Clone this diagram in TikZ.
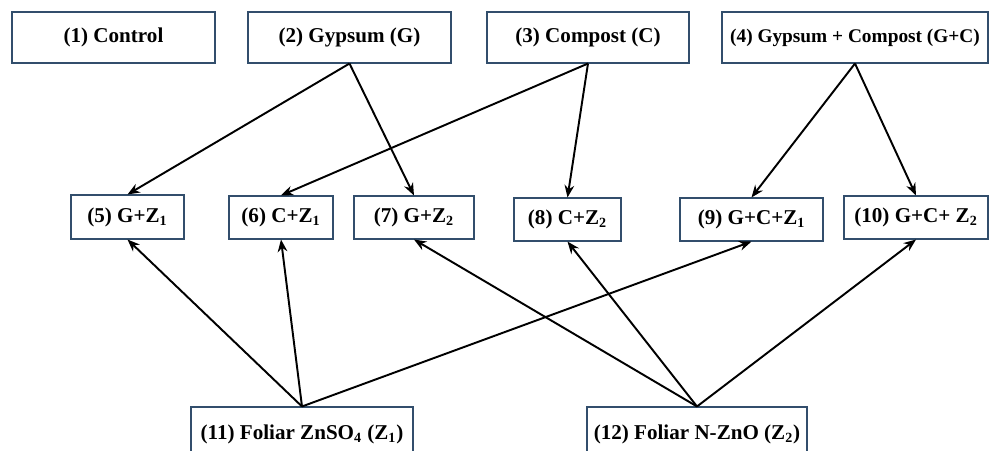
\documentclass[tikz,border=0pt]{standalone}
\usepackage{fontspec}
\setmainfont{Liberation Serif}
\usetikzlibrary{arrows.meta}
\definecolor{boxline}{RGB}{50,78,108}
\newcommand{\zsub}[1]{\textsubscript{#1}}

\begin{document}
\begin{tikzpicture}[
   box/.style={draw=boxline,line width=0.6pt,inner sep=0pt,
      font=\fontsize{12}{14}\selectfont\bfseries},
   link/.style={line width=1.1pt,-{Stealth[length=7pt,width=5.5pt]}}]
  \useasboundingbox (0,0) rectangle (19.82,9);
  % soil amendments
  \node[box,minimum width=4.06cm,minimum height=1.02cm] (ctrl) at (2.27,8.25) {(1) Control};
  \node[box,minimum width=4.06cm,minimum height=1.02cm] (gyp) at (6.99,8.25) {(2) Gypsum (G)};
  \node[box,minimum width=4.04cm,minimum height=1.02cm] (comp) at (11.76,8.25) {(3) Compost (C)};
  \node[box,minimum width=5.32cm,minimum height=1.02cm,font=\fontsize{11}{13}\selectfont\bfseries] (gc) at (17.10,8.25) {(4) Gypsum + Compost (G+C)};
  % combined treatments
  \node[box,minimum width=2.26cm,minimum height=0.88cm] (gz1) at (2.55,4.66) {(5) G+Z\zsub{1}};
  \node[box,minimum width=2.08cm,minimum height=0.86cm] (cz1) at (5.62,4.65) {(6) C+Z\zsub{1}};
  \node[box,minimum width=2.40cm,minimum height=0.86cm] (gz2) at (8.28,4.65) {(7) G+Z\zsub{2}};
  \node[box,minimum width=2.14cm,minimum height=0.86cm] (cz2) at (11.35,4.61) {(8) C+Z\zsub{2}};
  \node[box,minimum width=2.86cm,minimum height=0.86cm] (gcz1) at (15.03,4.61) {(9) G+C+Z\zsub{1}};
  \node[box,minimum width=2.88cm,minimum height=0.86cm] (gcz2) at (18.32,4.65) {(10) G+C+ Z\zsub{2}};
  % foliar zinc
  \node[box,minimum width=4.44cm,minimum height=1.10cm] (znso) at (6.04,0.31) {(11) Foliar ZnSO\zsub{4} (Z\zsub{1})};
  \node[box,minimum width=4.40cm,minimum height=1.10cm] (nzno) at (13.94,0.31) {(12) Foliar N-ZnO (Z\zsub{2})};
  % links
  \draw[link] (gyp.south) -- (gz1.north);
  \draw[link] (gyp.south) -- (gz2.north);
  \draw[link] (comp.south) -- (cz1.north);
  \draw[link] (comp.south) -- (cz2.north);
  \draw[link] (gc.south) -- (gcz1.north);
  \draw[link] (gc.south) -- (gcz2.north);
  \draw[link] (znso.north) -- (gz1.south);
  \draw[link] (znso.north) -- (cz1.south);
  \draw[link] (znso.north) -- (gcz1.south);
  \draw[link] (nzno.north) -- (gz2.south);
  \draw[link] (nzno.north) -- (cz2.south);
  \draw[link] (nzno.north) -- (gcz2.south);
\end{tikzpicture}
\end{document}
